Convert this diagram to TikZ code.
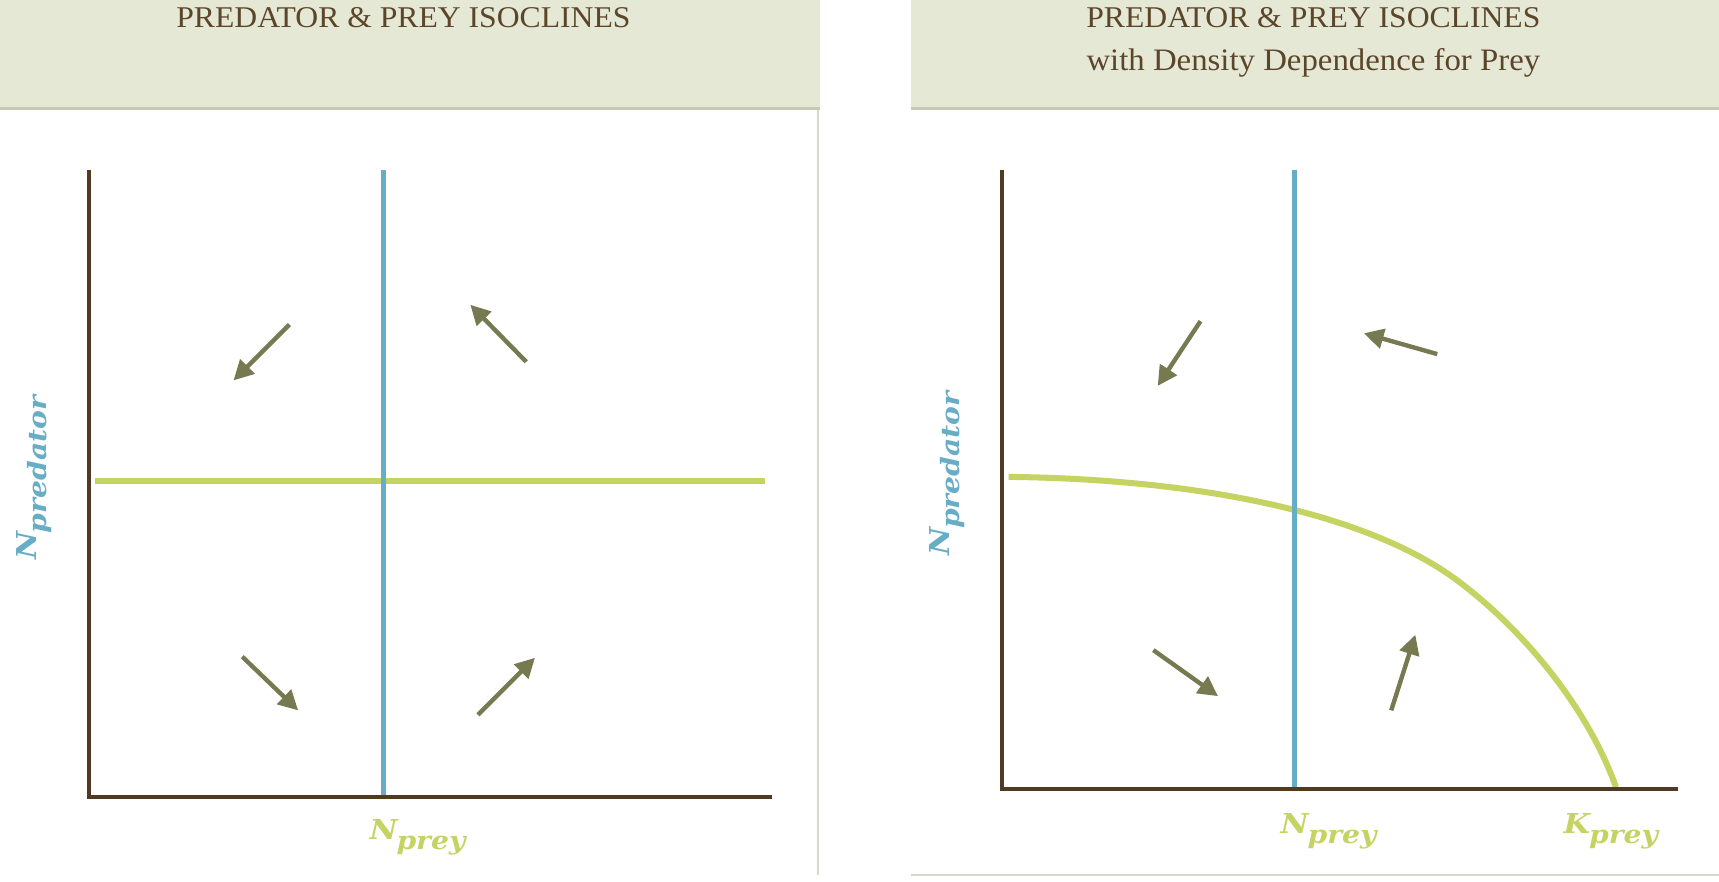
\documentclass[tikz,border=0pt]{standalone}
\usepackage{fontspec}
\setmainfont{Liberation Serif}
\newfontfamily\titlefont{Liberation Serif}[FakeStretch=1.05]
\newfontfamily\labelfont{DejaVu Serif}
\usepackage{tikz}
\usetikzlibrary{calc}
\usetikzlibrary{arrows.meta}

\definecolor{headbg}{RGB}{230,232,214}
\definecolor{headline}{RGB}{200,201,180}
\definecolor{titlebrown}{RGB}{92,70,42}
\definecolor{axisbrown}{RGB}{80,58,34}
\definecolor{isoblue}{RGB}{104,173,198}
\definecolor{isogreen}{RGB}{196,211,98}
\definecolor{flowolive}{RGB}{119,121,80}
\definecolor{panelline}{RGB}{214,217,200}

\newcommand{\poplabel}[2]{\scalebox{1.12}[1]{\labelfont\bfseries\itshape
  \fontsize{25}{25}\selectfont #1\hspace{-1pt}\raisebox{-9pt}{\fontsize{23}{23}\selectfont #2}}}

\tikzset{
  axis/.style={draw=axisbrown, line width=3.5pt},
  preyiso/.style={draw=isoblue, line width=5pt},
  prediso/.style={draw=isogreen, line width=5.5pt},
  flow/.style={draw=flowolive, line width=4pt, -{Triangle[length=18pt,width=18pt]}},
  title/.style={text=titlebrown, font=\titlefont\fontsize{27.5}{39}\selectfont, inner sep=0pt, anchor=base},
  poptext/.style={inner sep=0pt, anchor=base west},
}

\begin{document}
\begin{tikzpicture}[x=1pt,y=-1pt]
    \useasboundingbox (0,0) rectangle (1568,804.5);
    % header bars and panel edges
    \fill[headbg] (0,0) rectangle (748,99);
    \fill[headbg] (831,0) rectangle (1568,99);
    \draw[headline, line width=2pt] (0,99) -- (748,99);
    \draw[headline, line width=2pt] (831,99) -- (1568,99);
    \draw[panelline, line width=2pt] (746.5,100) -- (746.5,798);
    \draw[panelline, line width=2pt] (831,798) -- (1568,798);
    \node[title] (t1) at (368,25) {PREDATOR \& PREY ISOCLINES};
    \node[title] (t2) at (1198,25) {PREDATOR \& PREY ISOCLINES};
    \node[title, font=\titlefont\fontsize{28.5}{39}\selectfont] (t3) at (1198,64) {with Density Dependence for Prey};

    % left: plain isoclines
    \coordinate (L) at (81,727);
    \draw[prediso] (87,439) -- (698,439);
    \draw[preyiso] (350,155) -- (350,727);
    \draw[axis] ($(L)+(0,-572)$) -- (L) -- ($(L)+(623,0)$);
    \foreach \a/\b/\c/\d in {264/296/213/347, 480/330/429/278,
                             221/599/272/648, 436/652/488/600}
      \draw[flow] (\a,\b) -- (\c,\d);
    \node[poptext, text=isoblue, rotate=90] (pred1) at (33,511) {\poplabel{N}{predator}};
    \node[poptext, text=isogreen] (prey1) at (337,766) {\poplabel{N}{prey}};

    % right: density dependence for prey
    \coordinate (R) at (914,720);
    \draw[prediso] (920,435) .. controls (1100,437) and (1250,470) .. (1330,530)
      .. controls (1394,578) and (1450,650) .. (1474,718);
    \draw[preyiso] (1181,155) -- (1181,720);
    \draw[axis] ($(R)+(0,-565)$) -- (R) -- ($(R)+(617,0)$);
    \foreach \a/\b/\c/\d in {1095/293/1056/352, 1311/323/1244/304,
                             1052/593/1111/635, 1269/648/1291/579}
      \draw[flow] (\a,\b) -- (\c,\d);
    \node[poptext, text=isoblue, rotate=90] (pred2) at (866,507) {\poplabel{N}{predator}};
    \node[poptext, text=isogreen] (prey2) at (1168,760) {\poplabel{N}{prey}};
    \node[poptext, text=isogreen] (kprey) at (1426,760) {\poplabel{K}{prey}};
\end{tikzpicture}
\end{document}
